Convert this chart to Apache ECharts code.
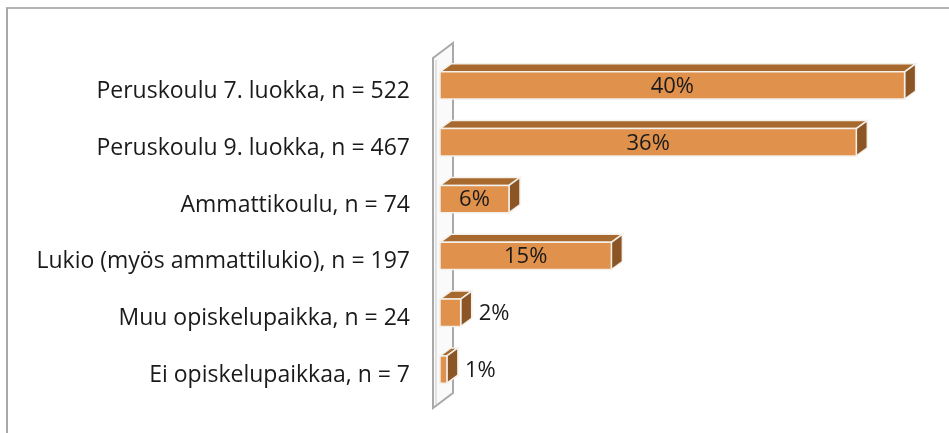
<!DOCTYPE html>
<html>
<head>
<meta charset="utf-8">
<script src="https://cdn.jsdelivr.net/npm/echarts@6/dist/echarts.min.js"></script>
<style>
  html, body { margin: 0; padding: 0; background: #fff; }
  #frame { position: absolute; left: 6px; top: 7px; width: 960px; height: 440px;
           border-left: 2px solid #a8a8a8; border-top: 2px solid #b4b4b4; }
  #chart { position: absolute; left: 0; top: 0; width: 949px; height: 433px; }
</style>
</head>
<body>
<div id="frame"></div>
<div id="chart"></div>
<script>
var categories = [
    'Peruskoulu 7. luokka, n = 522',
    'Peruskoulu 9. luokka, n = 467',
    'Ammattikoulu, n = 74',
    'Lukio (myös ammattilukio), n = 197',
    'Muu opiskelupaikka, n = 24',
    'Ei opiskelupaikkaa, n = 7'
];
var shares = [40.4, 36.2, 6.0, 14.9, 1.8, 0.6];

var FRONT = '#e0914c';
var TOPC = '#a8692f';
var SIDE = '#8c5526';
var DX = 11, DY = 8;
var FONT = '"Open Sans"';

var myChart = echarts.init(document.getElementById('chart'));

function renderBar(params, api) {
    var v = api.value(0);
    var idx = api.value(1);
    var start = api.coord([0, idx]);
    var end = api.coord([v, idx]);
    var h = api.size([0, 1])[1] * 0.48;
    var x0 = start[0], x1 = end[0], yc = start[1];
    var top = yc - h / 2, bottom = yc + h / 2;
    var edge = { stroke: '#f4f0ea', lineWidth: 1.5 };
    var inside = v >= 3;
    return {
        type: 'group',
        children: [
            { type: 'polygon', shape: { points: [[x0, top], [x0 + DX, top - DY], [x1 + DX, top - DY], [x1, top]] },
              style: Object.assign({ fill: TOPC }, edge) },
            { type: 'polygon', shape: { points: [[x1, top], [x1 + DX, top - DY], [x1 + DX, bottom - DY], [x1, bottom]] },
              style: Object.assign({ fill: SIDE }, edge) },
            { type: 'rect', shape: { x: x0, y: top, width: x1 - x0, height: h },
              style: Object.assign({ fill: FRONT }, edge) },
            { type: 'text', x: inside ? (x0 + x1) / 2 : x1 + DX + 7, y: yc + 1,
              style: { text: Math.round(v) + '%', fill: '#1a1a1a', font: '22px ' + FONT,
                       align: inside ? 'center' : 'left', verticalAlign: 'middle' } }
        ]
    };
}

var wallPts = [[433, 58], [453, 43], [453, 393], [433, 408]];

var option = {
    animation: false,
    grid: { left: 440, right: 26, top: 57, bottom: 35 },
    xAxis: {
        type: 'value', min: 0, max: 42,
        show: false
    },
    yAxis: {
        type: 'category',
        inverse: true,
        data: categories,
        axisLine: { show: false },
        axisTick: { show: false },
        axisLabel: {
            margin: 30,
            formatter: '{a|{value}}',
            rich: { a: { color: '#1a1a1a', fontFamily: 'Open Sans', fontSize: 23, padding: [12, 0, 0, 0] } }
        }
    },
    graphic: [
        { type: 'polygon', z: 0, shape: { points: wallPts },
          style: { fill: '#fafafa', stroke: '#a9a9a9', lineWidth: 2 } },
        { type: 'polyline', z: 0, shape: { points: [[436, 60], [436, 404]] },
          style: { stroke: '#e2e2e2', lineWidth: 2 } }
    ],
    series: [{
        type: 'custom',
        z: 5,
        renderItem: renderBar,
        encode: { x: 0, y: 1 },
        data: shares.map(function (s, i) { return [s, i]; })
    }]
};

myChart.setOption(option);
</script>
</body>
</html>
